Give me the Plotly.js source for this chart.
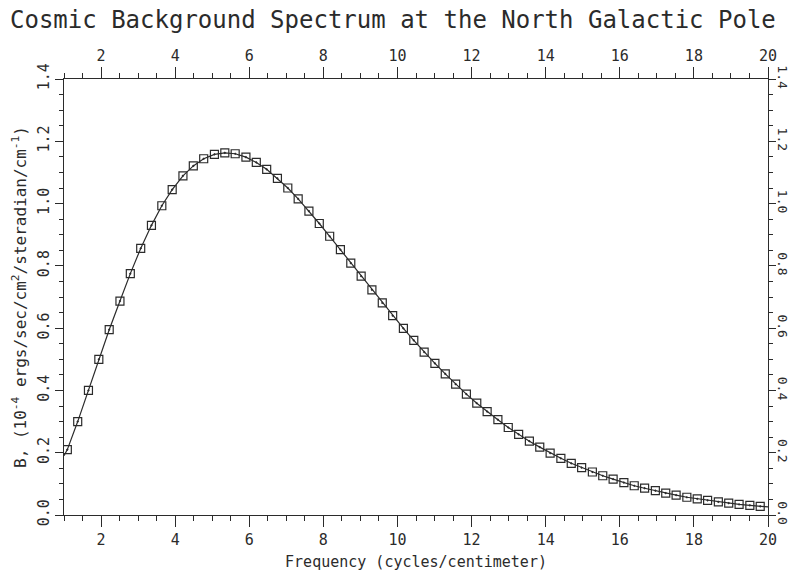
<!DOCTYPE html>
<html>
<head>
<meta charset="utf-8">
<script src="https://cdn.plot.ly/plotly-3.0.1.min.js"></script>
<style>html,body{margin:0;padding:0;background:#fff;}#chart{width:795px;height:571px;}</style>
</head>
<body>
<div id="chart"></div>
<script>
// Frequency of each measured point (cycles/centimeter)
const frequency = [1.09,1.37,1.66,1.94,2.22,2.51,2.79,3.07,3.36,3.64,3.92,4.21,4.49,4.77,5.06,5.34,5.62,5.91,6.19,6.47,
  6.76,7.04,7.32,7.61,7.89,8.17,8.46,8.74,9.02,9.31,9.59,9.87,10.16,10.44,10.72,11.01,11.29,11.57,11.86,12.14,
  12.42,12.71,12.99,13.27,13.56,13.84,14.12,14.41,14.69,14.97,15.26,15.54,15.82,16.11,16.39,16.67,16.96,17.24,17.52,17.81,
  18.09,18.37,18.66,18.94,19.22,19.51,19.79];
// Brightness B (10^-4 ergs/sec/cm^2/steradian/cm^-1)
const brightness = [0.21,0.30,0.40,0.50,0.595,0.687,0.775,0.856,0.930,0.993,1.045,1.089,1.121,1.144,1.158,1.163,1.160,1.149,1.132,1.110,
  1.081,1.050,1.015,0.976,0.936,0.895,0.852,0.809,0.767,0.723,0.681,0.640,0.599,0.561,0.523,0.487,0.453,0.420,0.388,0.359,
  0.332,0.306,0.281,0.259,0.237,0.218,0.199,0.182,0.166,0.152,0.138,0.126,0.115,0.104,0.094,0.086,0.078,0.070,0.064,0.057,
  0.052,0.047,0.042,0.038,0.034,0.031,0.028];
// Where the fitted curve meets the frame at each end
const curveStartFreq = [1.0], curveStartB = [0.19];
const curveEndFreq = [20.0], curveEndB = [0.026];

const ink = '#2b2b2b';
const fontFam = '"DejaVu Sans Mono", "Liberation Mono", monospace';

const curveX = curveStartFreq.concat(frequency, curveEndFreq);
const curveY = curveStartB.concat(brightness, curveEndB);

const traces = [
  {x: curveX, y: curveY, mode: 'lines', line: {color: ink, width: 1.2}, hoverinfo: 'skip', showlegend: false},
  {x: frequency, y: brightness, mode: 'markers',
   marker: {symbol: 'square-open-dot', size: 8, color: ink, line: {color: ink, width: 1.2}}, showlegend: false},
  {x: curveX, y: curveY, xaxis: 'x2', yaxis: 'y2', mode: 'lines', line: {color: 'rgba(0,0,0,0)', width: 0}, hoverinfo: 'skip', showlegend: false}
];

const xCommon = {
  range: [1, 20], tick0: 0, dtick: 2, ticks: 'outside', ticklen: 11, tickwidth: 1, tickcolor: ink,
  showline: true, linecolor: ink, linewidth: 1.3, showgrid: false, zeroline: false,
  tickfont: {family: fontFam, size: 15, color: ink},
  minor: {tick0: 0, dtick: 0.5, ticks: 'outside', ticklen: 5, tickwidth: 1, tickcolor: ink, showgrid: false}
};
const yCommon = {
  range: [0, 1.4], tick0: 0, dtick: 0.2, tickformat: '.1f', ticks: 'outside', ticklen: 8, tickwidth: 1, tickcolor: ink,
  showline: true, linecolor: ink, linewidth: 1.3, showgrid: false, zeroline: false,
  tickfont: {family: fontFam, size: 15, color: ink},
  minor: {tick0: 0, dtick: 0.05, ticks: 'outside', ticklen: 4, tickwidth: 1, tickcolor: ink, showgrid: false}
};

const layout = {
  width: 795, height: 571,
  margin: {l: 64, r: 27, t: 79, b: 56},
  paper_bgcolor: '#ffffff', plot_bgcolor: '#ffffff',
  title: {text: 'Cosmic Background Spectrum at the North Galactic Pole',
    font: {family: fontFam, size: 24, color: ink},
    x: 10/795, xanchor: 'left', xref: 'container', y: 1 - 20/571, yanchor: 'middle', yref: 'container'},
  xaxis: Object.assign({}, xCommon, {side: 'bottom',
    title: {text: 'Frequency (cycles/centimeter)', font: {family: fontFam, size: 15, color: ink}, standoff: 9}}),
  xaxis2: Object.assign({}, xCommon, {side: 'top', overlaying: 'x', anchor: 'y2'}),
  yaxis: Object.assign({}, yCommon, {side: 'left', tickangle: -90,
    title: {text: 'B, (10<sup>-4</sup> ergs/sec/cm<sup>2</sup>/steradian/cm<sup>-1</sup>)', font: {family: fontFam, size: 16, color: ink}, standoff: 4}}),
  yaxis2: Object.assign({}, yCommon, {side: 'right', overlaying: 'y', anchor: 'x2', tickangle: 90,
    ticklen: 7, ticklabelstandoff: -3, tickfont: {family: fontFam, size: 13, color: ink}}),
  hovermode: false
};

Plotly.newPlot('chart', traces, layout, {staticPlot: true, displayModeBar: false});
</script>
</body>
</html>
